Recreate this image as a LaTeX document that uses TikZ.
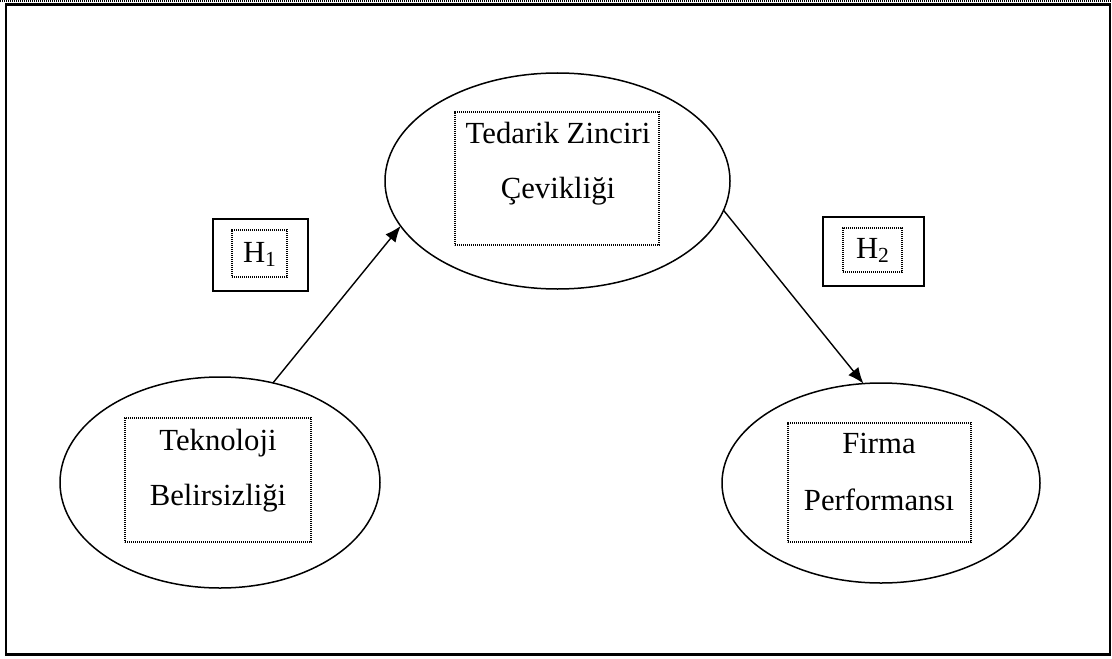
\documentclass[tikz,border=0pt]{standalone}
\usepackage{fontspec}
\setmainfont{Liberation Serif}
\usetikzlibrary{shapes.geometric,arrows.meta}

\tikzset{
  construct/.style={ellipse, draw, line width=0.75pt, inner sep=0pt, outer sep=0pt},
  dotbox/.style={rectangle, draw, line width=0.65pt, dash pattern=on 0.55pt off 0.45pt,
                 inner sep=0pt, outer sep=0pt},
  hypbox/.style={rectangle, draw, line width=0.7pt, inner sep=0pt, outer sep=0pt},
  label/.style={anchor=base, inner sep=0pt, font=\fontsize{15.35pt}{18pt}\selectfont},
  link/.style={line width=0.7pt, -{Latex[length=8pt,width=6.5pt]}},
  frame/.style={line width=1.25pt}
}

\begin{document}
\begin{tikzpicture}[x=0.5pt, y=-0.5pt]
  \useasboundingbox (0,0) rectangle (1112,658);

  % page frame
  \draw[line width=1pt, dash pattern=on 0.5pt off 0.5pt] (0,1) -- (1112,1);
  \draw[frame] (6,4.7) rectangle (1110,654.7);

  % constructs
  \node[construct, minimum width=172.5pt, minimum height=108pt] (T) at (557.5,181) {};
  \node[construct, minimum width=160pt, minimum height=105.5pt] (L) at (220,482.5) {};
  \node[construct, minimum width=159pt, minimum height=100pt] (R) at (881,483) {};

  % text frames inside the constructs
  \node[dotbox, minimum width=102pt, minimum height=66.5pt] (Tbox) at (557,178.5) {};
  \node[dotbox, minimum width=93pt, minimum height=62pt] (Lbox) at (218,480) {};
  \node[dotbox, minimum width=91.5pt, minimum height=59.5pt] (Rbox) at (879.5,482.5) {};

  % construct names
  \node[label] (T1) at (558,143) {Tedarik Zinciri};
  \node[label] (T2) at (558,198) {Çevikliği};
  \node[label] (L1) at (218,450) {Teknoloji};
  \node[label] (L2) at (218,505) {Belirsizliği};
  \node[label] (R1) at (879,453) {Firma};
  \node[label] (R2) at (879,510) {Performansı};

  % hypothesis labels
  \node[hypbox, minimum width=47.5pt, minimum height=36pt] (H1out) at (260.5,255) {};
  \node[dotbox, minimum width=27.5pt, minimum height=23.5pt] (H1in) at (259.5,253.5) {};
  \node[label] (H1) at (260,262) {H\textsubscript{1}};

  \node[hypbox, minimum width=50.5pt, minimum height=34.5pt] (H2out) at (873.5,251.5) {};
  \node[dotbox, minimum width=29.5pt, minimum height=22pt] (H2in) at (872.5,250) {};
  \node[label] (H2) at (873,258) {H\textsubscript{2}};

  % hypothesised paths
  \draw[link] (L.62.2) -- (T.196.4);
  \draw[link] (T.350.3) -- (R.100.7);
\end{tikzpicture}
\end{document}
